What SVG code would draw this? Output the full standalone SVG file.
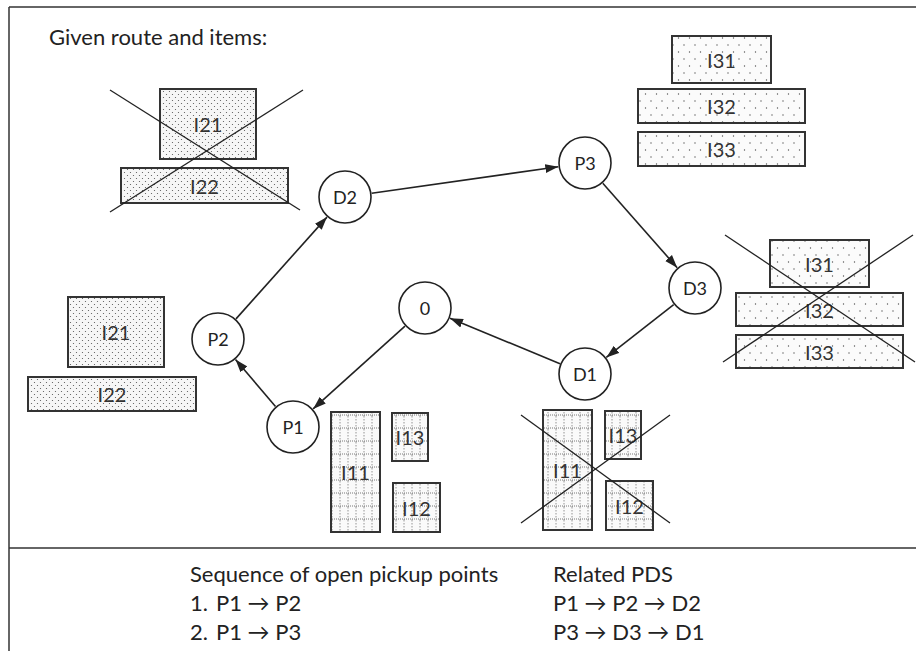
<svg xmlns="http://www.w3.org/2000/svg" width="916" height="651" viewBox="0 0 916 651">
<style>
  .frame{stroke:#333;stroke-width:1.5;fill:none}
  .node circle{fill:#fff;stroke:#222;stroke-width:1.6}
  .node text{font-family:Lato,"Liberation Sans",sans-serif;font-size:18px;fill:#222;text-anchor:middle;dominant-baseline:central}
  .item rect{stroke:#333;stroke-width:2}
  .item text{font-family:Lato,"Liberation Sans",sans-serif;font-size:20px;fill:#333;text-anchor:middle;dominant-baseline:central}
  .dense{fill:url(#dense)}
  .sparse{fill:url(#sparse)}
  .grid{fill:url(#grid)}
  .cross{stroke:#222;stroke-width:1.3}
  .edge{stroke:#222;stroke-width:1.6;fill:none;marker-end:url(#arr)}
  .txt{font-family:Lato,"Liberation Sans",sans-serif;font-size:22px;fill:#222}
</style>
<defs>
  <pattern id="dense" width="6" height="6" patternUnits="userSpaceOnUse">
    <rect width="6" height="6" fill="#f6f6f6"/>
    <circle cx="1.5" cy="1.5" r="0.6" fill="#555"/>
    <circle cx="4.5" cy="4.5" r="0.6" fill="#555"/>
  </pattern>
  <pattern id="sparse" width="11" height="14" patternUnits="userSpaceOnUse">
    <rect width="11" height="14" fill="#fbfbfb"/>
    <circle cx="2" cy="3" r="0.7" fill="#555"/>
    <circle cx="7.5" cy="10" r="0.7" fill="#555"/>
  </pattern>
  <pattern id="grid" width="8" height="13" patternUnits="userSpaceOnUse">
    <rect width="8" height="13" fill="#fafafa"/>
    <line x1="4" y1="0" x2="4" y2="13" stroke="#777" stroke-width="0.8" stroke-dasharray="1.5 1.5"/>
    <line x1="0" y1="12" x2="8" y2="12" stroke="#555" stroke-width="0.8" stroke-dasharray="1 1"/>
  </pattern>
  <marker id="arr" markerWidth="14" markerHeight="10" refX="13" refY="5" orient="auto" markerUnits="userSpaceOnUse">
    <path d="M0,0.5 L13,5 L0,9.5 z" fill="#222"/>
  </marker>
</defs>
<rect width="916" height="651" fill="#fff"/>
<g id="frame">
  <line class="frame" x1="9" y1="7" x2="916" y2="7"/>
  <line class="frame" x1="9" y1="7" x2="9" y2="651"/>
  <line class="frame" x1="9" y1="548" x2="916" y2="548"/>
</g>
<text id="title" class="txt" x="49" y="45">Given route and items:</text>

<g id="connectors">
  <line class="edge" x1="275.5" y1="406.5" x2="235.5" y2="359.5"/>
  <line class="edge" x1="236" y1="318.9" x2="327" y2="217.1"/>
  <line class="edge" x1="371.7" y1="193.2" x2="558.3" y2="166.8"/>
  <line class="edge" x1="602.8" y1="183.3" x2="677.2" y2="267.7"/>
  <line class="edge" x1="673.7" y1="304.6" x2="606.3" y2="357.4"/>
  <line class="edge" x1="560" y1="363.7" x2="450" y2="318.3"/>
  <line class="edge" x1="405" y1="326.1" x2="313.1" y2="408.9"/>
</g>

<g id="node-P1" class="node"><circle cx="293" cy="427" r="26"/><text x="293" y="427">P1</text></g>
<g id="node-P2" class="node"><circle cx="218" cy="339" r="26"/><text x="218" y="339">P2</text></g>
<g id="node-D2" class="node"><circle cx="345" cy="197" r="26"/><text x="345" y="197">D2</text></g>
<g id="node-P3" class="node"><circle cx="585" cy="163" r="26"/><text x="585" y="163">P3</text></g>
<g id="node-D3" class="node"><circle cx="695" cy="288" r="26"/><text x="695" y="288">D3</text></g>
<g id="node-D1" class="node"><circle cx="585" cy="374" r="26"/><text x="585" y="374">D1</text></g>
<g id="node-0" class="node"><circle cx="425" cy="308" r="26"/><text x="425" y="308">0</text></g>

<g id="items-2-done" class="item">
  <rect class="dense" x="160" y="89" width="96" height="70"/><text x="208" y="124">I21</text>
  <rect class="dense" x="121" y="168" width="167" height="35"/><text x="204.5" y="185.5">I22</text>
  <line class="cross" x1="110" y1="90" x2="300" y2="210"/>
  <line class="cross" x1="303" y1="90" x2="110" y2="212"/>
</g>
<g id="items-3" class="item">
  <rect class="sparse" x="672" y="36" width="99" height="47"/><text x="721.5" y="59.5">I31</text>
  <rect class="sparse" x="638" y="89" width="167" height="34"/><text x="721.5" y="106">I32</text>
  <rect class="sparse" x="638" y="132" width="167" height="34"/><text x="721.5" y="149">I33</text>
</g>
<g id="items-3-done" class="item">
  <rect class="sparse" x="770" y="240" width="99" height="47"/><text x="819.5" y="263.5">I31</text>
  <rect class="sparse" x="736" y="293" width="167" height="33"/><text x="819.5" y="309.5">I32</text>
  <rect class="sparse" x="736" y="335" width="167" height="33"/><text x="819.5" y="351.5">I33</text>
  <line class="cross" x1="725" y1="235" x2="915" y2="362"/>
  <line class="cross" x1="913" y1="235" x2="723" y2="362"/>
</g>
<g id="items-2" class="item">
  <rect class="dense" x="68" y="297" width="96" height="70"/><text x="116" y="332">I21</text>
  <rect class="dense" x="28" y="377" width="168" height="34"/><text x="112" y="394">I22</text>
</g>
<g id="items-1" class="item">
  <rect class="grid" x="331" y="412" width="49" height="120"/><text x="355.5" y="472">I11</text>
  <rect class="grid" x="392" y="413" width="36" height="48"/><text x="410" y="437">I13</text>
  <rect class="grid" x="393" y="483" width="47" height="49"/><text x="416.5" y="507.5">I12</text>
</g>
<g id="items-1-done" class="item">
  <rect class="grid" x="543" y="410" width="49" height="120"/><text x="567.5" y="470">I11</text>
  <rect class="grid" x="605" y="411" width="36" height="48"/><text x="623" y="435">I13</text>
  <rect class="grid" x="606" y="481" width="47" height="49"/><text x="629.5" y="505.5">I12</text>
  <line class="cross" x1="521" y1="415" x2="670" y2="523"/>
  <line class="cross" x1="670" y1="415" x2="521" y2="523"/>
</g>

<g id="legend">
  <text class="txt" x="190" y="582">Sequence of open pickup points</text>
  <text class="txt" x="190" y="611">1.<tspan x="216">P1 → P2</tspan></text>
  <text class="txt" x="190" y="640">2.<tspan x="216">P1 → P3</tspan></text>
  <text class="txt" x="553" y="582">Related PDS</text>
  <text class="txt" x="553" y="611">P1 → P2 → D2</text>
  <text class="txt" x="553" y="640">P3 → D3 → D1</text>
</g>
</svg>
